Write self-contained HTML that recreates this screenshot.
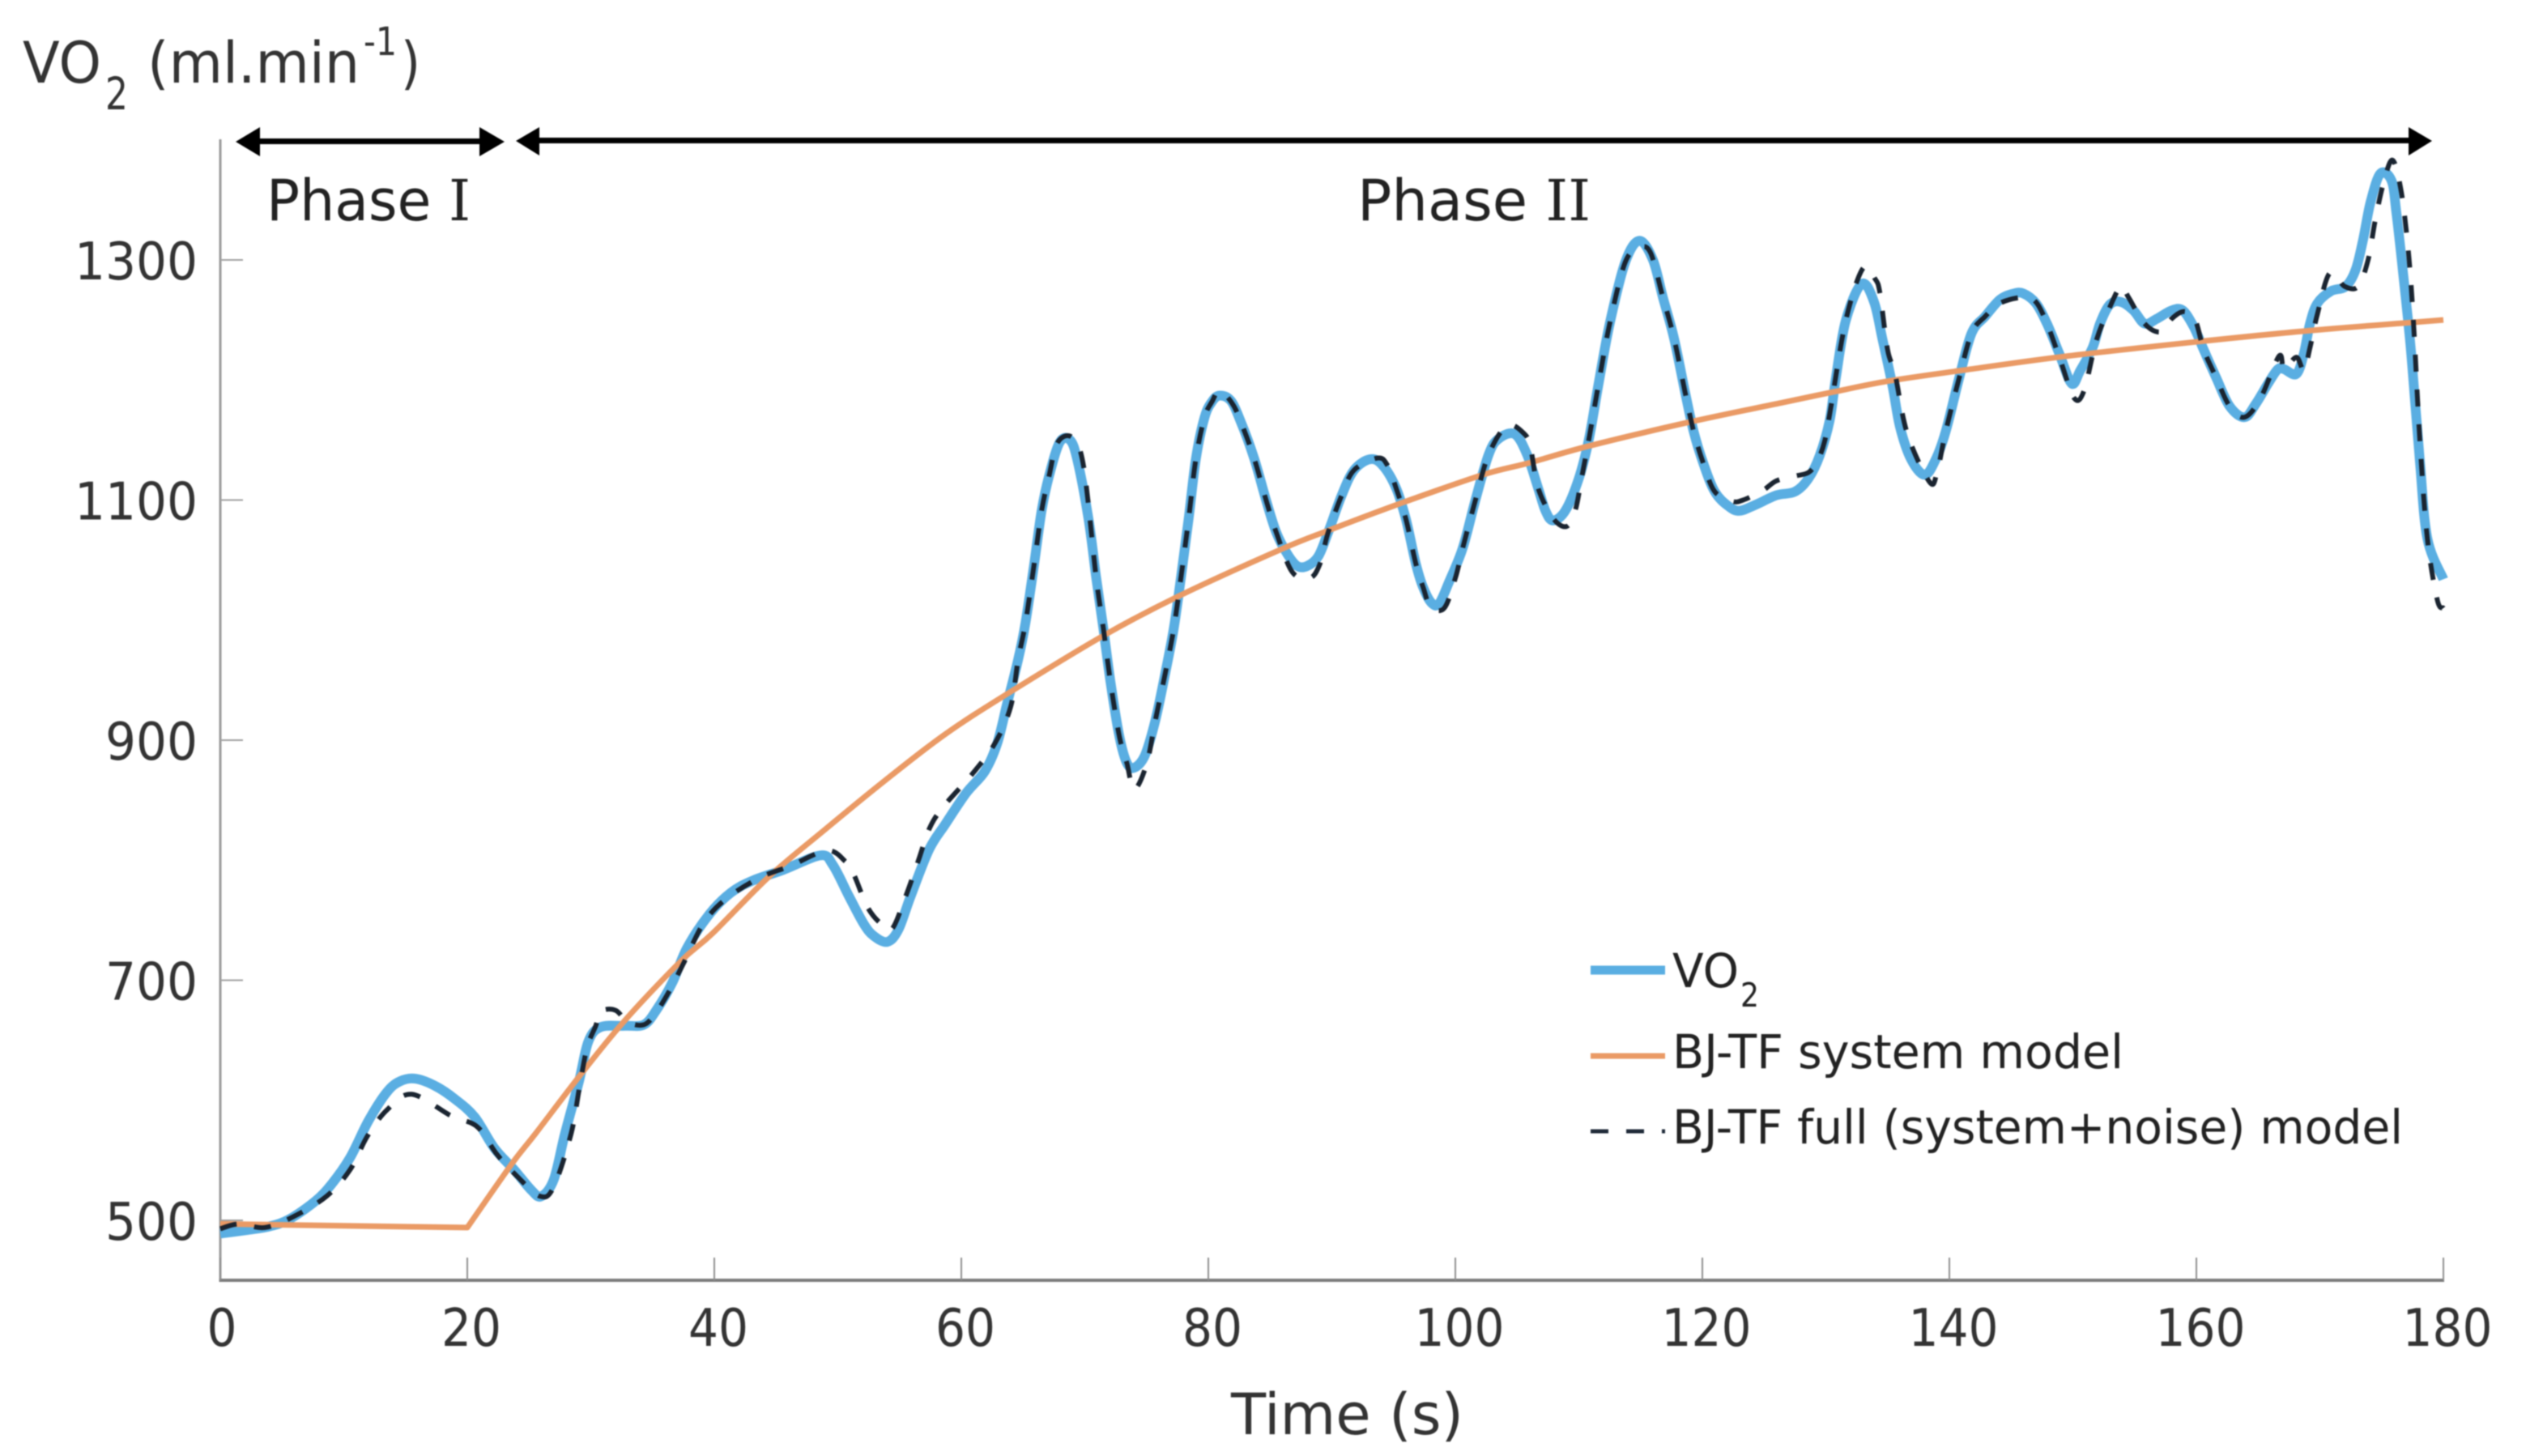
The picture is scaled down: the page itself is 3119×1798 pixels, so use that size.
<!DOCTYPE html>
<html lang="en">
<head>
<meta charset="utf-8">
<title>VO2 response chart</title>
<style>
html,body{margin:0;padding:0;background:#fff;width:3119px;height:1798px;overflow:hidden}
svg{display:block;filter:blur(0.9px)}
text{font-family:"DejaVu Sans","Liberation Sans",sans-serif;fill:#333}
</style>
</head>
<body>
<svg id="chart" xmlns="http://www.w3.org/2000/svg" width="3119" height="1798" viewBox="0 0 3119 1798">
  <rect x="0" y="0" width="3119" height="1798" fill="#fff"/>

  <g id="axes"></g>
  <g id="series"></g>

  <g>
    <text x="28" y="102" font-size="70" textLength="97" lengthAdjust="spacingAndGlyphs">VO</text>
    <text x="130" y="135" font-size="55" textLength="28" lengthAdjust="spacingAndGlyphs">2</text>
    <text x="182" y="102" font-size="70" textLength="262" lengthAdjust="spacingAndGlyphs">(ml.min</text>
    <text x="449" y="68" font-size="48" textLength="41" lengthAdjust="spacingAndGlyphs">-1</text>
    <text x="495" y="102" font-size="70" textLength="24" lengthAdjust="spacingAndGlyphs">)</text>
  </g>

  <g>
    <rect x="318" y="171" width="276" height="7" fill="#000"/>
    <polygon points="291,175 321,157 321,193" fill="#000"/>
    <polygon points="623,175 592,157 592,193" fill="#000"/>
  </g>
  <g>
    <rect x="664" y="170" width="2312" height="7" fill="#000"/>
    <polygon points="637,174 666,157 666,192" fill="#000"/>
    <polygon points="3003,174 2974,157 2974,192" fill="#000"/>
  </g>
  <text x="329" y="272" font-size="70" textLength="252" lengthAdjust="spacingAndGlyphs" style="fill:#222">Phase <tspan style="font-family:'DejaVu Serif','Liberation Serif',serif">I</tspan></text>
  <text x="1676" y="272" font-size="70" textLength="288" lengthAdjust="spacingAndGlyphs" style="fill:#222">Phase <tspan style="font-family:'DejaVu Serif','Liberation Serif',serif">II</tspan></text>

  <text x="1520" y="1771" font-size="70" textLength="287" lengthAdjust="spacingAndGlyphs">Time (s)</text>

  <g>
    <g>
      <line x1="1964" y1="1198" x2="2056" y2="1198" stroke="#5aaee2" stroke-width="11"/>
      <text x="2065" y="1219" font-size="58" textLength="82" lengthAdjust="spacingAndGlyphs" style="fill:#222">VO</text>
      <text x="2149" y="1243" font-size="41" textLength="23" lengthAdjust="spacingAndGlyphs" style="fill:#222">2</text>
    </g>
    <g>
      <line x1="1964" y1="1304" x2="2056" y2="1304" stroke="#ea9a65" stroke-width="7"/>
      <text x="2065" y="1319" font-size="58" textLength="557" lengthAdjust="spacingAndGlyphs" style="fill:#222">BJ-TF system model</text>
    </g>
    <g>
      <line x1="1964" y1="1397" x2="2056" y2="1397" stroke="#1f2a38" stroke-width="5" stroke-dasharray="22 22"/>
      <text x="2065" y="1412" font-size="58" textLength="902" lengthAdjust="spacingAndGlyphs" style="fill:#222">BJ-TF full (system+noise) model</text>
    </g>
  </g>
</svg>

<script>
const xTicks = [0, 20, 40, 60, 80, 100, 120, 140, 160, 180];
const yTicks = [500, 700, 900, 1100, 1300];

const vo2Time = [0,2.2,4,5.6,7.7,9,10.5,12,13.5,14.6,15.8,17.4,19,20.6,22.2,23.8,25.2,26,27,27.9,29.05,29.8,30.8,32.8,34.3,35.3,36.6,37.8,39.6,41.35,43.1,45.6,48.6,49.6,50.9,52.1,52.9,54,54.9,55.9,57.4,58.7,60.4,61.9,62.9,63.7,64.6,65.2,65.9,66.5,67.1,67.96,68.8,69.4,70.3,70.9,71.5,72.1,72.8,73.4,74,74.85,75.7,76.5,77.2,77.8,78.4,79,79.7,80.3,80.9,81.8,82.6,83.7,84.7,85.5,86.4,87.2,88,88.9,89.7,90.8,91.8,93.1,94.1,95.2,96,96.8,97.4,98.1,98.7,99.5,100.6,101.6,102.7,103.5,104.8,105.8,106.7,107.3,107.9,108.9,110,110.8,111.6,112.5,113.75,114.9,116,116.8,117.7,118.6,119.3,120.1,121,122.1,123,124.3,126,127.5,128.6,129.5,130.3,130.8,131.6,132.9,133.9,134.6,135.4,136,136.9,138,138.9,139.7,140.8,141.8,142.9,144.1,145.2,146,147,147.9,148.9,149.9,150.6,151.6,152.2,153,153.9,154.9,155.8,156.8,158,158.9,159.8,160.6,161.6,162.7,163.9,164.8,165.8,166.6,167.1,168.1,168.7,169.2,169.8,170.9,172.1,172.9,173.5,174.1,174.9,175.8,176.2,176.8,177.3,177.7,178.1,178.7,180];
const vo2Values = [489,492,495,501,516,530,552,583,607,616,618,612,601,586,560,542,525,520,534,572,616,649,661,662,663,675,698,727,755,773,783,792,804,796,770,747,737,732,742,770,809,830,856,874,897,930,967,998,1047,1091,1120,1148,1150,1133,1084,1037,993,947,903,881,877,887,916,955,993,1037,1084,1135,1169,1182,1187,1183,1166,1135,1099,1073,1055,1045,1045,1053,1073,1104,1125,1134,1129,1110,1084,1047,1027,1014,1014,1032,1060,1099,1138,1151,1155,1138,1110,1091,1083,1091,1118,1150,1197,1247,1298,1316,1300,1269,1235,1190,1157,1130,1107,1095,1091,1096,1104,1107,1118,1137,1166,1201,1249,1280,1265,1233,1195,1161,1134,1121,1134,1157,1202,1239,1253,1267,1272,1272,1264,1247,1222,1197,1208,1227,1247,1263,1265,1258,1247,1251,1258,1258,1244,1225,1202,1178,1169,1180,1197,1209,1209,1205,1222,1247,1264,1274,1278,1292,1317,1348,1372,1366,1339,1283,1233,1183,1132,1068,1034];

const systemTime = [0,20,23.6,25.5,29.3,32.8,37.3,39.85,44.4,48.9,53.65,58.7,64.1,71.5,77.6,85.9,89.8,95.5,102.2,106,110.8,119,126.4,130.6,135,141,149.6,160.2,169,177.5,180];
const systemValues = [497,494,547,572,623,667,716,739,786,825,865,905,941,987,1020,1059,1075,1097,1121,1131,1145,1165,1181,1190,1199,1208,1220,1232,1241,1248,1250];

const fullTime = [0,1.5,3.6,5.9,8.6,10.5,11.9,13.5,15.5,18.7,20.8,22.4,24,25.9,27,28.4,29.1,29.7,30.4,30.8,32,33,34.3,35.2,36.3,37.6,39.1,40.85,43.6,46.1,49.1,50.6,51.3,52.4,53.5,54.4,55.5,56.5,57.4,58.5,60.9,62.7,64,64.6,65.2,65.9,66.5,67.1,67.8,69,69.9,70.9,71.5,72.1,72.8,73.4,74,75,75.7,76.5,77.2,77.8,78.4,79,79.7,80.3,80.9,81.9,82.6,83.7,84.7,85.5,86.8,88.2,89,89.7,90.8,91.8,93.7,94.5,95.2,96,96.8,97.4,98,99.1,100,100.6,101.6,102.7,104.2,105.6,106.1,106.7,107.9,109,109.7,110.2,110.8,111.6,112.5,113.75,114.9,115.8,116.8,117.7,118.6,119.3,120.1,121,122.4,123.3,124.9,126,127.5,128.6,129.3,129.9,130.4,131.6,133,134,134.4,135,135.6,136.6,138.4,139,139.7,140.8,141.8,142.9,144.1,146,147,147.9,149,150.1,150.9,151.9,153,153.9,154.5,155.8,157.1,158,159,159.9,160.6,161.6,162.7,163.9,165.2,166.7,167.1,168.1,168.7,169.2,169.8,170.8,172,173.1,173.9,174.5,175.2,175.9,176.6,177.2,177.6,178.1,178.7,179.5,180];
const fullValues = [493,497,494,503,520,542,570,592,605,587,578,555,537,520,528,572,612,644,662,674,675,665,663,672,690,716,747,767,785,795,808,799,788,761,747,743,770,799,826,844,872,897,928,967,998,1047,1091,1120,1148,1152,1128,1037,993,947,903,881,859,880,916,955,993,1037,1084,1135,1169,1182,1191,1181,1166,1135,1099,1073,1040,1035,1046,1073,1104,1125,1135,1129,1110,1084,1047,1027,1011,1010,1035,1060,1099,1138,1162,1155,1143,1110,1085,1078,1091,1117,1150,1197,1247,1298,1310,1306,1269,1235,1190,1157,1130,1107,1099,1100,1108,1116,1120,1123,1132,1149,1177,1249,1293,1284,1271,1225,1205,1155,1115,1123,1157,1202,1239,1253,1264,1269,1265,1247,1216,1185,1191,1233,1261,1278,1269,1247,1240,1251,1257,1250,1225,1202,1178,1169,1185,1220,1209,1219,1208,1227,1255,1289,1278,1278,1300,1334,1366,1383,1356,1303,1244,1149,1068,1017,1010];

const NS = 'http://www.w3.org/2000/svg';
const xScale = function (t) { return 272 + 15.25 * t; };
const yScale = function (v) { return 1507 - (v - 500) * 1.4825; };
const axes = document.getElementById('axes');
const series = document.getElementById('series');

function makeLine(x1, y1, x2, y2, color, width) {
  const el = document.createElementNS(NS, 'line');
  el.setAttribute('x1', x1);
  el.setAttribute('y1', y1);
  el.setAttribute('x2', x2);
  el.setAttribute('y2', y2);
  el.setAttribute('stroke', color);
  el.setAttribute('stroke-width', width);
  return el;
}

const yAxisLine = makeLine(xScale(0), 172, xScale(0), 1581, '#9a9a9a', 3);


axes.appendChild(yAxisLine);

const xAxisLine = makeLine(xScale(0) - 1.5, 1581, xScale(180) + 1, 1581, '#7c7c7c', 4);


axes.appendChild(xAxisLine);

xTicks.forEach(function (t) {
  const tick = makeLine(xScale(t), 1553, xScale(t), 1581, '#909090', 2);
  
  
  axes.appendChild(tick);

  const label = document.createElementNS(NS, 'text');
  const digits = String(t).length;
  label.setAttribute('x', xScale(t) + (t === 0 ? 2 : 5));
  label.setAttribute('y', 1662);
  label.setAttribute('font-size', '64');
  label.setAttribute('text-anchor', 'middle');
  label.setAttribute('textLength', digits * 37);
  label.setAttribute('lengthAdjust', 'spacingAndGlyphs');
  
  
  label.textContent = String(t);
  axes.appendChild(label);
});

yTicks.forEach(function (v) {
  const tick = makeLine(xScale(0), yScale(v), xScale(0) + 28, yScale(v), '#a0a0a0', 2);
  
  
  axes.appendChild(tick);

  const label = document.createElementNS(NS, 'text');
  const digits = String(v).length;
  label.setAttribute('x', 244);
  label.setAttribute('y', yScale(v) + 24);
  label.setAttribute('font-size', '64');
  label.setAttribute('text-anchor', 'end');
  label.setAttribute('textLength', digits * 38);
  label.setAttribute('lengthAdjust', 'spacingAndGlyphs');
  
  
  label.textContent = String(v);
  axes.appendChild(label);
});

function splinePath(times, values, straightLead) {
  const pts = times.map(function (t, i) {
    return [xScale(t), yScale(values[i])];
  });
  let d = 'M' + pts[0][0].toFixed(1) + ' ' + pts[0][1].toFixed(1);
  for (let i = 0; i < pts.length - 1; i++) {
    const p1 = pts[i];
    const p2 = pts[i + 1];
    if (i < straightLead) {
      d += 'L' + p2[0].toFixed(1) + ' ' + p2[1].toFixed(1);
      continue;
    }
    const p0 = i > straightLead ? pts[i - 1] : p1;
    const p3 = i + 2 < pts.length ? pts[i + 2] : p2;
    const c1x = p1[0] + (p2[0] - p0[0]) / 6;
    const c1y = p1[1] + (p2[1] - p0[1]) / 6;
    const c2x = p2[0] - (p3[0] - p1[0]) / 6;
    const c2y = p2[1] - (p3[1] - p1[1]) / 6;
    d += 'C' + c1x.toFixed(1) + ' ' + c1y.toFixed(1) + ' ' + c2x.toFixed(1) + ' ' + c2y.toFixed(1) + ' ' + p2[0].toFixed(1) + ' ' + p2[1].toFixed(1);
  }
  return d;
}

function makeSeries(times, values, color, width, straightLead) {
  const el = document.createElementNS(NS, 'path');
  el.setAttribute('d', splinePath(times, values, straightLead));
  el.setAttribute('fill', 'none');
  el.setAttribute('stroke', color);
  el.setAttribute('stroke-width', width);
  el.setAttribute('stroke-linejoin', 'round');
  return el;
}

const vo2Line = makeSeries(vo2Time, vo2Values, '#5aaee2', 12, 0);


series.appendChild(vo2Line);

const systemLine = makeSeries(systemTime, systemValues, '#ea9a65', 7, 1);


series.appendChild(systemLine);

const fullLine = makeSeries(fullTime, fullValues, '#1a2430', 6, 0);
fullLine.setAttribute('stroke-dasharray', '21 22');


series.appendChild(fullLine);
</script>
</body>
</html>
